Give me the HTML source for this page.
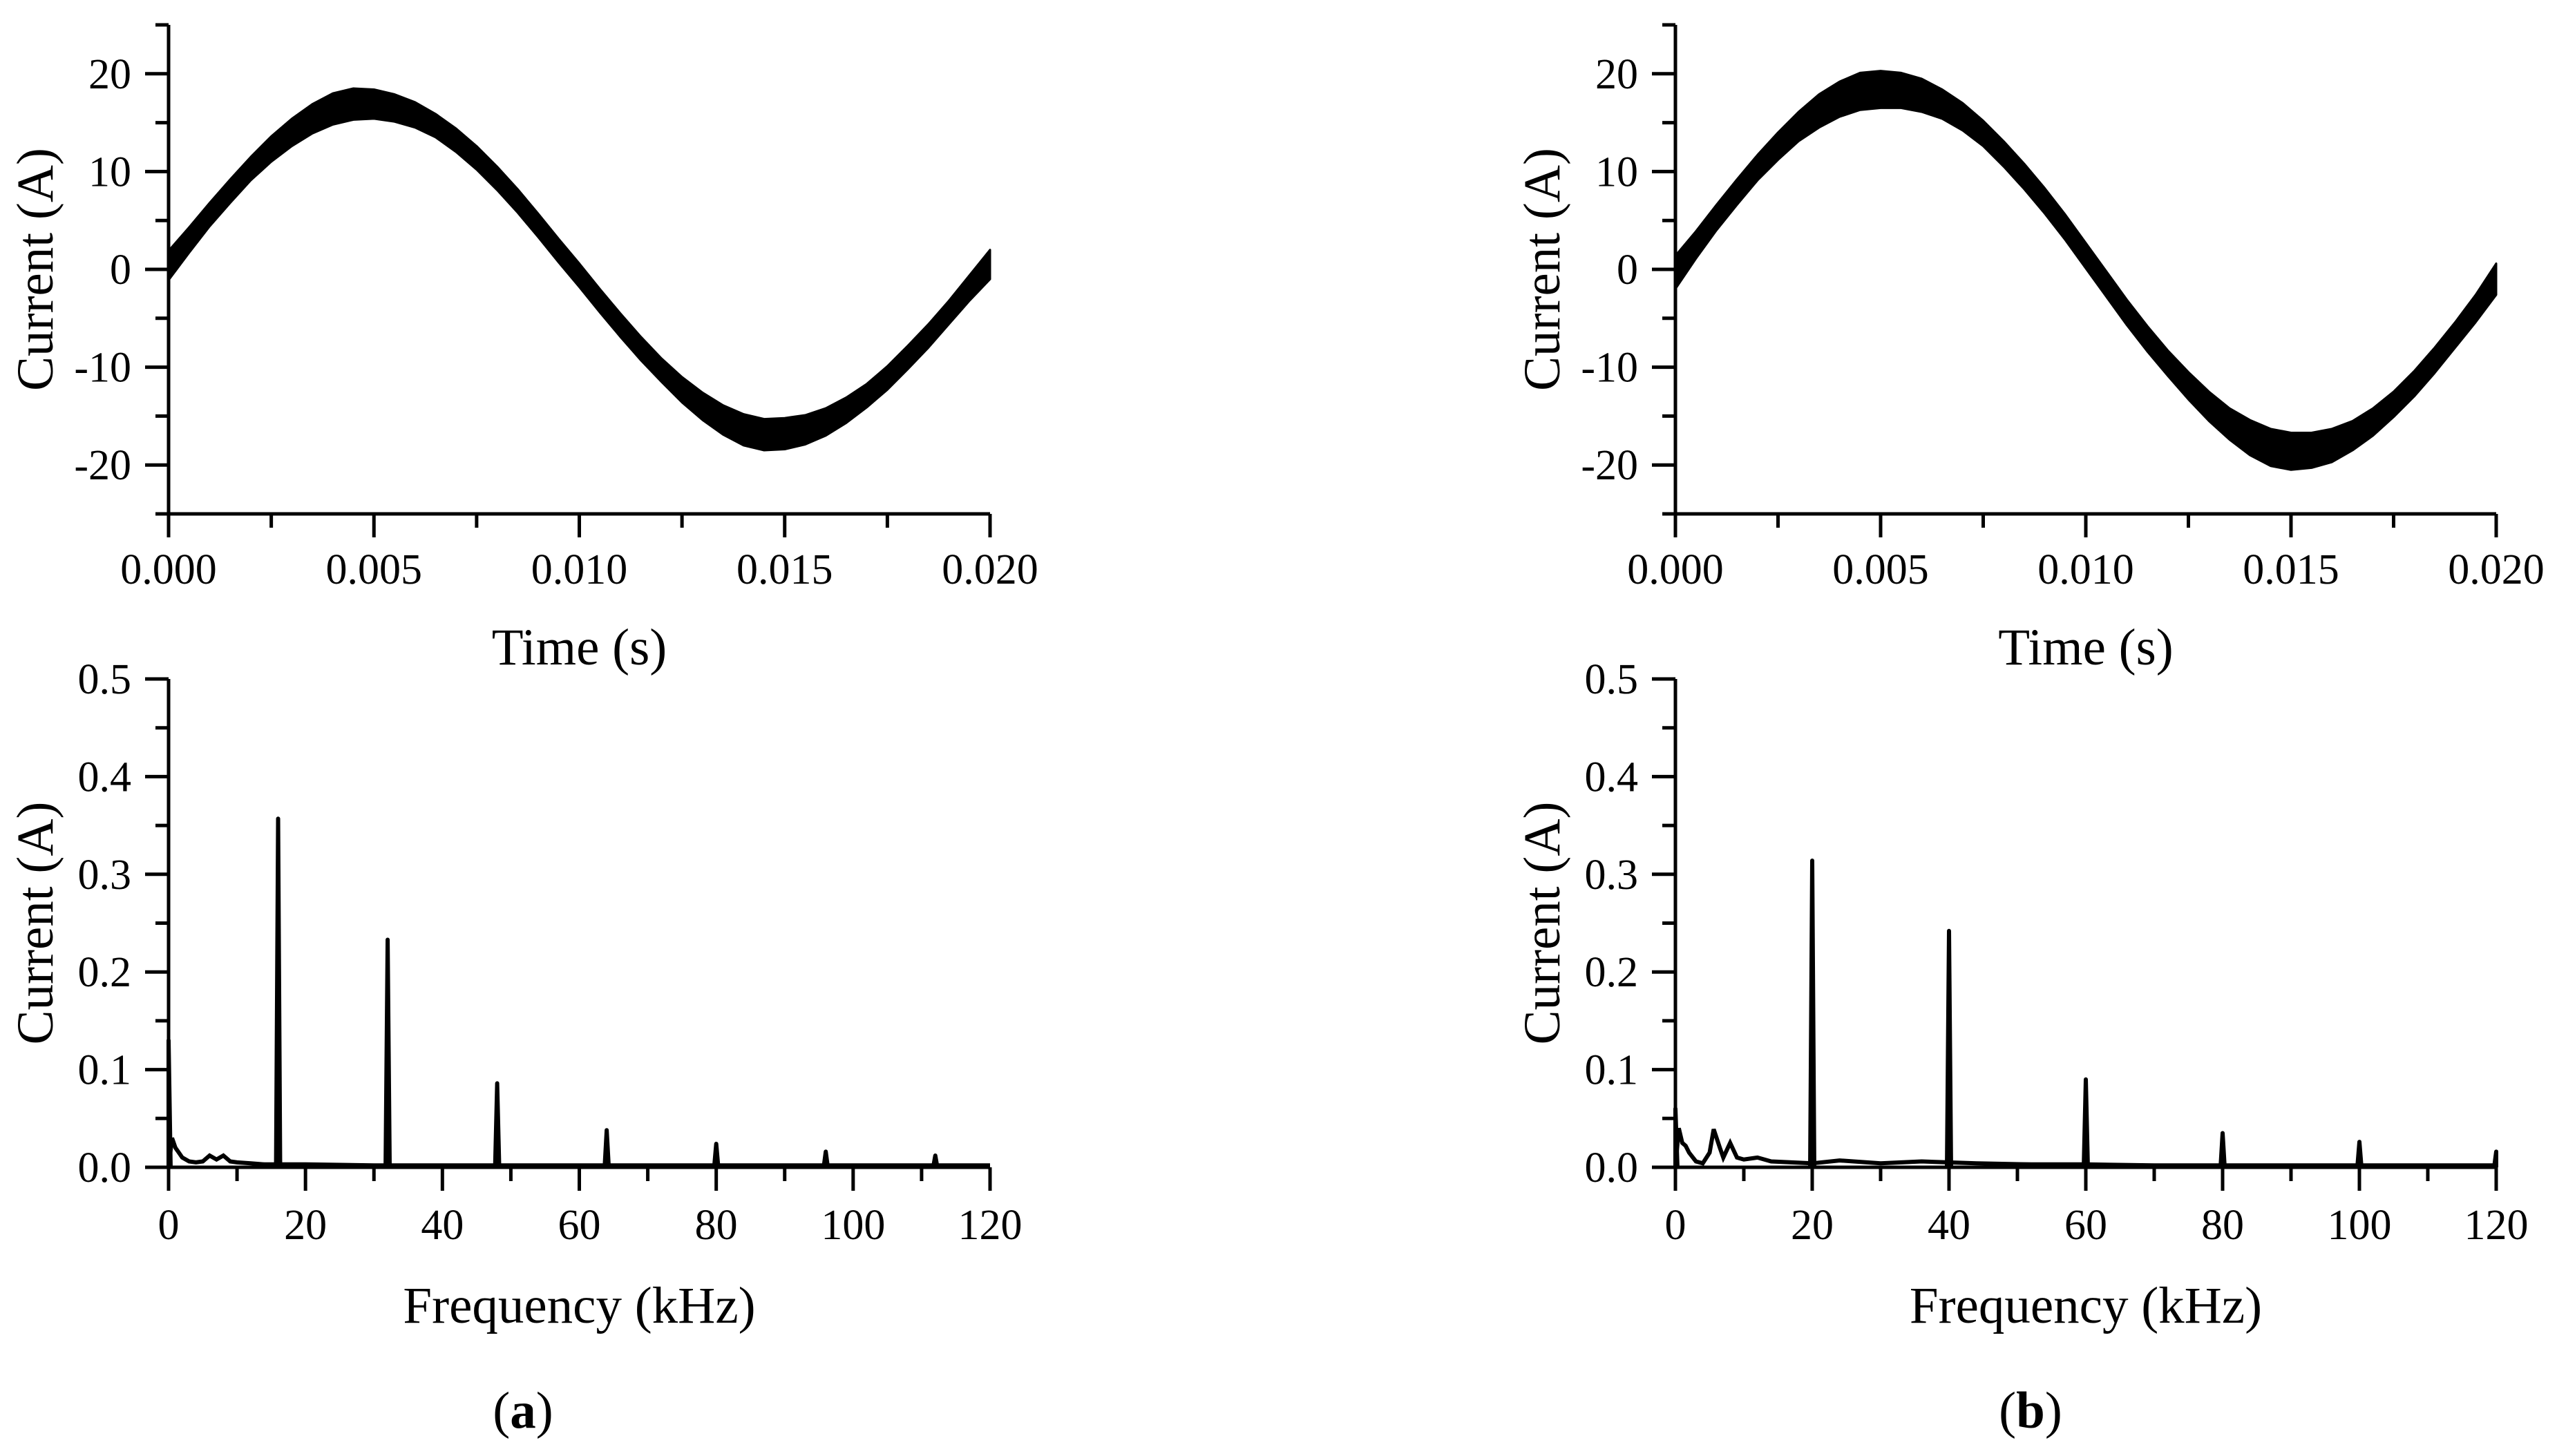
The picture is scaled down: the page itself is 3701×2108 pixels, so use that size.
<!DOCTYPE html>
<html><head><meta charset="utf-8"><style>
html,body{margin:0;padding:0;background:#fff}
svg{display:block}
text{font-family:"Liberation Serif",serif;fill:#000}
</style></head><body>
<svg id="fig" width="3701" height="2108" viewBox="0 0 3701 2108" xmlns="http://www.w3.org/2000/svg"></svg>
<script>
// ---- Data ----
const timeTicks = [0, 0.005, 0.010, 0.015, 0.020];
const timeTickLabels = ["0.000","0.005","0.010","0.015","0.020"];
const currentTicks = [-20,-10,0,10,20];
const currentTickLabels = ["-20","-10","0","10","20"];
const freqTicks = [0,20,40,60,80,100,120];
const freqTickLabels = ["0","20","40","60","80","100","120"];
const specTicks = [0,0.1,0.2,0.3,0.4,0.5];
const specTickLabels = ["0.0","0.1","0.2","0.3","0.4","0.5"];
// waveform samples every 0.0005 s (41 points)
const waveA_center = [0.4,3.0,5.6,8.0,10.3,12.3,14.0,15.4,16.4,16.9,16.9,16.5,15.8,14.7,13.2,11.4,9.3,7.0,4.5,1.9,-0.6,-3.2,-5.7,-8.1,-10.3,-12.3,-14.0,-15.4,-16.4,-16.9,-16.8,-16.4,-15.6,-14.4,-12.9,-11.1,-9.0,-6.8,-4.4,-1.9,0.5];
const waveA_half = [1.5,1.3,1.2,1.2,1.2,1.3,1.4,1.5,1.6,1.6,1.5,1.4,1.3,1.2,1.2,1.2,1.2,1.2,1.2,1.2,1.2,1.2,1.2,1.2,1.2,1.3,1.4,1.5,1.6,1.6,1.6,1.5,1.4,1.3,1.2,1.2,1.2,1.2,1.2,1.3,1.5];
const waveB_center = [-0.3,2.5,5.3,7.9,10.4,12.6,14.6,16.2,17.4,18.2,18.4,18.3,17.8,16.9,15.6,13.9,11.8,9.5,7.0,4.3,1.4,-1.5,-4.4,-7.1,-9.6,-11.9,-14.0,-15.8,-17.2,-18.2,-18.6,-18.5,-18.0,-17.0,-15.6,-13.8,-11.7,-9.3,-6.7,-4.0,-1.0];
const waveB_half = [1.7,1.4,1.3,1.3,1.3,1.4,1.5,1.7,1.8,1.9,1.9,1.8,1.7,1.5,1.4,1.3,1.3,1.3,1.3,1.3,1.3,1.3,1.3,1.3,1.3,1.4,1.5,1.6,1.8,1.9,1.9,1.8,1.7,1.5,1.4,1.3,1.3,1.3,1.3,1.4,1.6];
const specA_freq = [0,16,32,48,64,80,96,112];
const specA_amp = [0.13,0.357,0.233,0.086,0.038,0.024,0.016,0.012];
const specA_noiseF = [0.5,1,1.5,2,3,4,5,6,7,8,9,10,12,14,16,20,30,40,60,100,120];
const specA_noiseA = [0.03,0.02,0.015,0.01,0.006,0.005,0.006,0.012,0.008,0.012,0.006,0.005,0.004,0.003,0.003,0.003,0.002,0.002,0.002,0.002,0.002];
const specB_freq = [0,20,40,60,80,100,120];
const specB_amp = [0.06,0.314,0.242,0.090,0.035,0.026,0.016];
const specB_noiseF = [0.5,1,1.5,2,3,4,5,5.6,6.5,7,8,9,10,12,14,17,20,24,30,36,44,52,60,70,90,110,120];
const specB_noiseA = [0.04,0.025,0.022,0.015,0.006,0.004,0.015,0.039,0.02,0.01,0.025,0.01,0.008,0.01,0.006,0.005,0.004,0.007,0.004,0.006,0.004,0.003,0.003,0.002,0.002,0.002,0.002];

const NS="http://www.w3.org/2000/svg";
const svg=document.getElementById('fig');
function mk(tag,attrs,parent){const e=document.createElementNS(NS,tag);for(const k in attrs)e.setAttribute(k,attrs[k]);(parent||svg).appendChild(e);return e;}

function axes(g,x0,x1,y0,y1,xmin,xmax,ymin,ymax,xt,xtl,xminor,yt,ytl,yminor,xtitle,ytitleX,xlabBase,xtitleBase){
  const sx=v=>x0+(v-xmin)/(xmax-xmin)*(x1-x0);
  const sy=v=>y0-(v-ymin)/(ymax-ymin)*(y0-y1);
  const ax=mk('path',{d:`M${x0} ${y1}V${y0}H${x1}`,fill:'none',stroke:'#000','stroke-width':5},g);
  
  
  xt.forEach((v,i)=>{
    const t=mk('line',{x1:sx(v),x2:sx(v),y1:y0,y2:y0+34,stroke:'#000','stroke-width':5},g);
    
    
    const l=mk('text',{x:sx(v),y:xlabBase,'font-size':62,'text-anchor':'middle'},g);l.textContent=xtl[i];
    
    
  });
  xminor.forEach(v=>{
    const t=mk('line',{x1:sx(v),x2:sx(v),y1:y0,y2:y0+20,stroke:'#000','stroke-width':5},g);
    
    
  });
  yt.forEach((v,i)=>{
    const t=mk('line',{x1:x0-34,x2:x0,y1:sy(v),y2:sy(v),stroke:'#000','stroke-width':5},g);
    
    
    const l=mk('text',{x:x0-54,y:sy(v)+21,'font-size':62,'text-anchor':'end'},g);l.textContent=ytl[i];
    
    
  });
  yminor.forEach(v=>{
    const t=mk('line',{x1:x0-19,x2:x0,y1:sy(v),y2:sy(v),stroke:'#000','stroke-width':5},g);
    
    
  });
  const xt2=mk('text',{x:(x0+x1)/2,y:xtitleBase,'font-size':75,'text-anchor':'middle'},g);xt2.textContent=xtitle;
  
  
  const yc=(y0+y1)/2;
  const yt2=mk('text',{x:0,y:0,'font-size':75,'text-anchor':'middle',transform:`translate(${ytitleX+26},${yc}) rotate(-90)`},g);yt2.textContent='Current (A)';
  
  
  return {sx,sy};
}

function wavePanel(x0,x1,center,half,name){
  const g=mk('g',{});
  
  
  const {sx,sy}=axes(g,x0,x1,744,36,0,0.02,-25,25,timeTicks,timeTickLabels,[0.0025,0.0075,0.0125,0.0175],currentTicks,currentTickLabels,[-25,-15,-5,5,15,25],'Time (s)',x0-194,845,962);
  const n=center.length;const up=[],lo=[];
  for(let i=0;i<n;i++){const t=i*0.02/(n-1);up.push(`${sx(t).toFixed(1)},${sy(center[i]+half[i]).toFixed(1)}`);lo.push(`${sx(t).toFixed(1)},${sy(center[i]-half[i]).toFixed(1)}`);}
  const p=mk('polygon',{points:up.concat(lo.reverse()).join(' '),fill:'#000',stroke:'#000','stroke-width':3,'stroke-linejoin':'round'},g);
  
  
}

function specPanel(x0,x1,freq,amp,nf,na,name){
  const g=mk('g',{});
  
  
  const {sx,sy}=axes(g,x0,x1,1690,983,0,120,0,0.5,freqTicks,freqTickLabels,[10,30,50,70,90,110],specTicks,specTickLabels,[0.05,0.15,0.25,0.35,0.45],'Frequency (kHz)',x0-194,1794,1915);
  let d=`M${sx(0)} ${sy(0)}`;
  nf.forEach((f,i)=>{d+=` L${sx(f).toFixed(1)} ${sy(na[i]).toFixed(1)}`;});
  const nl=mk('path',{d:d,fill:'none',stroke:'#000','stroke-width':6},g);
  
  
  freq.forEach((f,i)=>{
    const l=mk('path',{d:`M${sx(Math.max(0,f-0.3))} ${sy(0)} L${sx(f)} ${sy(amp[i])} L${sx(Math.min(120,f+0.3))} ${sy(0)}`,fill:'#000',stroke:'#000','stroke-width':6,'stroke-linejoin':'round'},g);
    
    
  });
}

wavePanel(244,1433,waveA_center,waveA_half,'panel-a-time');
wavePanel(2425,3613,waveB_center,waveB_half,'panel-b-time');
specPanel(244,1433,specA_freq,specA_amp,specA_noiseF,specA_noiseA,'panel-a-spectrum');
specPanel(2425,3613,specB_freq,specB_amp,specB_noiseF,specB_noiseA,'panel-b-spectrum');

const la=mk('text',{x:757,y:2067,'font-size':75,'text-anchor':'middle'});
la.innerHTML='(<tspan font-weight="bold">a</tspan>)';


const lb=mk('text',{x:2939,y:2067,'font-size':75,'text-anchor':'middle'});
lb.innerHTML='(<tspan font-weight="bold">b</tspan>)';


</script>
</body></html>
